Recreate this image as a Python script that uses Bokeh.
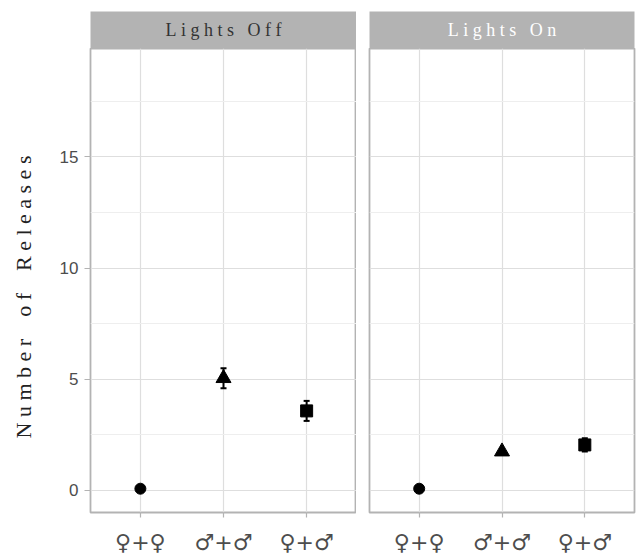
from bokeh.plotting import figure
from bokeh.models import (FactorRange, Range1d, FixedTicker, Whisker, TeeHead,
                          ColumnDataSource, Label)
from bokeh.transform import factor_mark
from bokeh.layouts import row, column
from bokeh.embed import file_html
from bokeh.resources import INLINE

# ---- data ----
combos = ["♀+♀", "♂+♂", "♀+♂"]
panels = ["Lights Off", "Lights On"]
off_mean = [0.08, 5.05, 3.58]
off_se = [0.0, 0.45, 0.45]
on_mean = [0.08, 1.75, 2.05]
on_se = [0.0, 0.12, 0.3]
y_ticks = [0, 5, 10, 15]
y_minor = [2.5, 7.5, 12.5, 17.5]
y_title = "Number of Releases"

# ---- style ----
markers = ["circle", "triangle", "square"]
marker_sizes = [11, 15, 12]
GREY70 = "#b3b3b3"
GRID_MAJOR = "#dedede"
GRID_MINOR = "#eeeeee"
NB = "\u00a0"


def spaced(s, gap, word_gap):
    return (NB * word_gap).join((NB * gap).join(w) for w in s.split(" "))


FRAME_W_A = 266
FRAME_W_B = 265
FRAME_H = 465
LEFT_A = 90
LEFT_B = 13
RIGHT_B = 2
BOTTOM = 44
STRIP_TOP = 11
STRIP_H = 37


def make_strip(label, color, left, frame_w, right):
    s = figure(width=left + frame_w + right, height=STRIP_TOP + STRIP_H,
               x_range=Range1d(0, 1), y_range=Range1d(0, 1),
               x_axis_location=None, y_axis_location=None,
               toolbar_location=None, output_backend="svg",
               min_border_left=left, min_border_right=right,
               min_border_top=STRIP_TOP, min_border_bottom=0)
    s.background_fill_color = GREY70
    s.border_fill_color = "white"
    s.outline_line_color = None
    s.xgrid.visible = False
    s.ygrid.visible = False
    s.add_layout(Label(x=0.5, y=0.5, text=spaced(label, 1, 3),
                       text_align="center", text_baseline="middle",
                       text_font="Liberation Serif", text_font_size="18px",
                       text_color=color))
    return s


def make_panel(mean, se, first, left, frame_w, right):
    src = ColumnDataSource(dict(
        combo=combos,
        mean=mean,
        upper=[m + e for m, e in zip(mean, se)],
        lower=[m - e for m, e in zip(mean, se)],
        size=marker_sizes,
    ))
    p = figure(width=left + frame_w + right, height=FRAME_H + BOTTOM,
               x_range=FactorRange(*combos, range_padding=0.1,
                                   range_padding_units="absolute"),
               y_range=Range1d(-0.99, 19.88),
               y_axis_location="left" if first else None,
               toolbar_location=None, output_backend="svg",
               min_border_left=left, min_border_right=right,
               min_border_top=0, min_border_bottom=BOTTOM)
    p.background_fill_color = "white"
    p.border_fill_color = "white"
    p.outline_line_color = GREY70
    p.outline_line_width = 1.8

    # grids
    p.xgrid.grid_line_color = GRID_MAJOR
    p.xgrid.grid_line_width = 1.2
    p.ygrid.ticker = FixedTicker(ticks=y_ticks, minor_ticks=y_minor)
    p.ygrid.grid_line_color = GRID_MAJOR
    p.ygrid.grid_line_width = 1.2
    p.ygrid.minor_grid_line_color = GRID_MINOR
    p.ygrid.minor_grid_line_width = 1.0

    # x axis
    xa = p.xaxis[0]
    xa.axis_line_color = None
    xa.major_tick_line_color = GREY70
    xa.major_tick_line_width = 1.2
    xa.major_tick_out = 5
    xa.major_tick_in = 0
    xa.minor_tick_line_color = None
    xa.major_label_text_font = "DejaVu Sans"
    xa.major_label_text_font_size = "22px"
    xa.major_label_text_color = "#4d4d4d"
    xa.major_label_standoff = 12

    if first:
        ya = p.yaxis[0]
        ya.ticker = FixedTicker(ticks=y_ticks, minor_ticks=y_minor)
        ya.axis_line_color = None
        ya.major_tick_line_color = GREY70
        ya.major_tick_line_width = 1.2
        ya.major_tick_out = 6
        ya.major_tick_in = 0
        ya.minor_tick_line_color = None
        ya.major_label_text_font = "Liberation Sans"
        ya.major_label_text_font_size = "17px"
        ya.major_label_text_color = "#4d4d4d"
        ya.major_label_standoff = 6
        # trailing spaces shift the visible title slightly downward, as in the original
        ya.axis_label = spaced(y_title, 1, 4) + NB * 6
        ya.axis_label_text_font = "Liberation Serif"
        ya.axis_label_text_font_size = "22px"
        ya.axis_label_text_font_style = "normal"
        ya.axis_label_text_color = "#222222"
        ya.axis_label_standoff = 21

    p.add_layout(Whisker(source=src, base="combo", upper="upper", lower="lower",
                         dimension="height", line_color="black", line_width=2,
                         upper_head=TeeHead(size=6, line_width=2, line_color="black"),
                         lower_head=TeeHead(size=6, line_width=2, line_color="black")))
    p.scatter(x="combo", y="mean", source=src, size="size",
              marker=factor_mark("combo", markers, combos),
              fill_color="black", line_color="black")
    return p


strip_a = make_strip(panels[0], "#333333", LEFT_A, FRAME_W_A, 0)
strip_b = make_strip(panels[1], "white", LEFT_B, FRAME_W_B, RIGHT_B)
panel_a = make_panel(off_mean, off_se, True, LEFT_A, FRAME_W_A, 0)
panel_b = make_panel(on_mean, on_se, False, LEFT_B, FRAME_W_B, RIGHT_B)

layout = row(column(strip_a, panel_a), column(strip_b, panel_b))

open("out.html", "w").write(file_html(layout, INLINE))
